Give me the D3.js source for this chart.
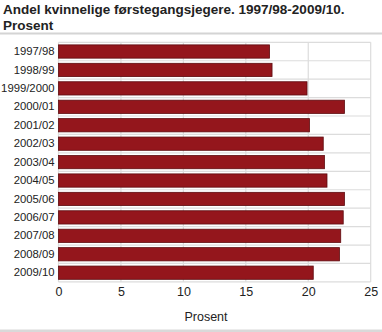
<!DOCTYPE html>
<html>
<head>
<meta charset="utf-8">
<script src="https://cdn.jsdelivr.net/npm/d3@7"></script>
<style>
  html, body { margin: 0; padding: 0; background: #fff; }
  svg { display: block; font-family: "Liberation Sans", Arial, sans-serif; }
</style>
</head>
<body>
<svg id="chart" width="382" height="332"></svg>
<script>
// Share of women among first-time hunters, per hunting season (percent)
const seasons = ["1997/98", "1998/99", "1999/2000", "2000/01", "2001/02", "2002/03", "2003/04",
                 "2004/05", "2005/06", "2006/07", "2007/08", "2008/09", "2009/10"];
const shares = [16.9, 17.1, 19.9, 22.9, 20.1, 21.2, 21.3, 21.5, 22.9, 22.8, 22.6, 22.5, 20.4];
const xTicks = [0, 5, 10, 15, 20, 25];
const titleLines = ["Andel kvinnelige førstegangsjegere. 1997/98-2009/10.", "Prosent"];
const xLabel = "Prosent";

const svg = d3.select("#chart");
const W = 382, H = 332;
const margin = { left: 58.5, top: 42.3 };
const plotBottom = 281.9;

const x = d3.scaleLinear().domain([0, 25]).range([margin.left, 370.7]);
const y = d3.scaleBand().domain(seasons).range([margin.top, plotBottom]).paddingInner(0.28).paddingOuter(0.14);

// Title
svg.append("g").selectAll("text").data(titleLines).join("text")
  .attr("x", 3).attr("y", (d, i) => 14 + i * 15.5)
  .attr("font-size", 13.5).attr("font-weight", "bold").attr("fill", "#222")
  .text(d => d);

// Separator below the title
svg.append("rect").attr("x", 0).attr("y", 32.5).attr("width", W).attr("height", 2).attr("fill", "#d4d4d4");

// Footer strip
svg.append("rect").attr("x", 0).attr("y", 329.5).attr("width", W).attr("height", 3).attr("fill", "#d9d9d9");

// Grid: vertical lines at ticks, horizontal lines between categories
const grid = svg.append("g").attr("stroke", "#dcdcdc").attr("stroke-width", 1.2);
grid.selectAll("line.v").data(xTicks).join("line").attr("class", "v")
  .attr("x1", d => x(d)).attr("x2", d => x(d))
  .attr("y1", margin.top).attr("y2", plotBottom);
const step = y.step();
const hLines = d3.range(seasons.length + 1).map(i => margin.top + i * step);
grid.selectAll("line.h").data(hLines).join("line").attr("class", "h")
  .attr("x1", margin.left).attr("x2", x(25))
  .attr("y1", d => d).attr("y2", d => d);

// Bars
svg.append("g").selectAll("rect").data(seasons).join("rect")
  .attr("x", x(0))
  .attr("y", d => y(d))
  .attr("width", (d, i) => x(shares[i]) - x(0))
  .attr("height", y.bandwidth())
  .attr("fill", "#94161c")
  .attr("stroke", "#5e0c10")
  .attr("stroke-width", 0.8);

// Y axis labels
const yAxis = d3.axisLeft(y).tickSize(0).tickPadding(4);
const gy = svg.append("g").attr("transform", `translate(${margin.left},0)`).call(yAxis);
gy.select(".domain").remove();
gy.selectAll("text").attr("font-size", 11.3).attr("fill", "#222")
  .attr("font-family", "'Liberation Sans', Arial, sans-serif");

// X axis labels
const xAxis = d3.axisBottom(x).tickValues(xTicks).tickSize(0).tickPadding(5);
const gx = svg.append("g").attr("transform", `translate(0,${plotBottom})`).call(xAxis);
gx.select(".domain").remove();
gx.selectAll("text").attr("font-size", 12.5).attr("fill", "#222")
  .attr("font-family", "'Liberation Sans', Arial, sans-serif");

// X axis title
svg.append("text").attr("x", 206).attr("y", 320.5).attr("text-anchor", "middle")
  .attr("font-size", 12.5).attr("fill", "#222").text(xLabel);
</script>
</body>
</html>
